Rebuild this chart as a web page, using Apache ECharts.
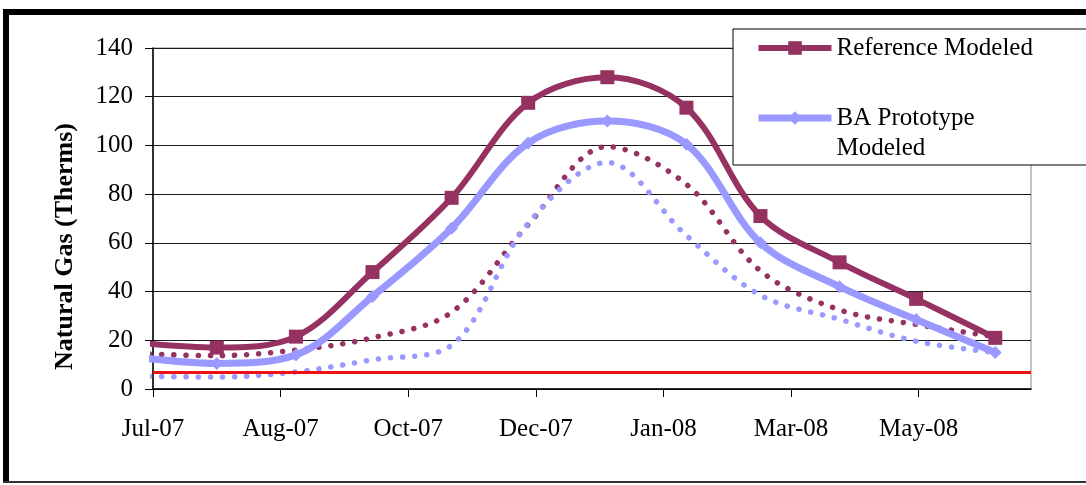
<!DOCTYPE html>
<html>
<head>
<meta charset="utf-8">
<script src="https://cdn.jsdelivr.net/npm/echarts@6/dist/echarts.min.js"></script>
<style>
  html, body { margin: 0; padding: 0; background: #fff; }
  #chart { width: 1086px; height: 485px; }
</style>
</head>
<body>
<div id="chart"></div>
<script>
// x axis is a date axis in days, counted from the axis start
const axisStart = '2007-07-07'
const axisEnd = '2008-06-15'
const tickStepDays = 50
const tickLabels = ['Jul-07', 'Aug-07', 'Oct-07', 'Dec-07', 'Jan-08', 'Mar-08', 'May-08']
const yTicks = [0, 20, 40, 60, 80, 100, 120, 140]

const months = ['2007-07-01', '2007-08-01', '2007-09-01', '2007-10-01', '2007-11-01', '2007-12-01',
    '2008-01-01', '2008-02-01', '2008-03-01', '2008-04-01', '2008-05-01', '2008-06-01']

const referenceModeled = [19, 17, 21.5, 48, 78.5, 117.5, 128, 115.5, 71, 52, 37, 21]
const baPrototypeModeled = [13, 10.5, 14, 38, 66, 101, 110, 100.5, 60, 42, 28.5, 15]
const referenceDotted = [14.5, 13.7, 16, 21, 31.5, 67.5, 99.5, 84, 48.5, 32.5, 26.5, 21.5]
const baPrototypeDotted = [5.3, 4.9, 7, 12, 18, 68, 93, 63, 38.5, 28.6, 19.6, 15]
const baselineValue = 7

// legend texts (the second one wraps; the blank first line keeps "BA Prototype" level with its icon)
const legendText = {
    'Reference Modeled': 'Reference Modeled',
    'BA Prototype Modeled': '\nBA Prototype\nModeled'
}

const FONT = "'Liberation Serif', 'Times New Roman', serif"
const MAROON = '#963262'
const LILAC = '#9999FF'
const SMOOTH = 0.34

const dayMs = 86400000
const toDays = (d) => Math.round((Date.parse(d) - Date.parse(axisStart)) / dayMs)
const pairs = (values) => months.map((m, i) => [toDays(m), values[i]])
const tickValues = tickLabels.map((_, i) => i * tickStepDays)

const chart = echarts.init(document.getElementById('chart'), null, { renderer: 'canvas' })

const option = {
    animation: false,
    backgroundColor: '#fff',
    grid: {
        left: 153, right: 55, top: 48, bottom: 96,
        show: true, borderColor: '#888', borderWidth: 1
    },
    legend: {
        orient: 'vertical',
        left: 733, top: 29,
        padding: [4, 90, 2, 22],
        itemGap: 10,
        itemWidth: 73,
        itemHeight: 17,
        backgroundColor: '#fff',
        borderColor: '#000',
        borderWidth: 1,
        selectedMode: false,
        formatter: (name) => legendText[name],
        textStyle: { fontFamily: FONT, fontSize: 25, color: '#000', lineHeight: 30 },
        data: [
            { name: 'Reference Modeled', lineStyle: { width: 6 } },
            { name: 'BA Prototype Modeled', lineStyle: { width: 7 } }
        ]
    },
    graphic: [
        // outer frame of the figure
        { type: 'rect', shape: { x: 3, y: 9, width: 1100, height: 6 }, style: { fill: '#000' }, z: 100 },
        { type: 'rect', shape: { x: 3, y: 9, width: 6, height: 474 }, style: { fill: '#000' }, z: 100 },
        { type: 'rect', shape: { x: 3, y: 481, width: 1100, height: 2 }, style: { fill: '#333' }, z: 100 }
    ],
    xAxis: {
        type: 'value',
        min: 0,
        max: toDays(axisEnd),
        interval: tickStepDays,
        axisLine: { show: true, lineStyle: { color: '#000', width: 1.5 } },
        axisTick: { show: true, customValues: tickValues, length: 8, lineStyle: { color: '#000' } },
        axisLabel: {
            customValues: tickValues,
            formatter: (v) => tickLabels[Math.round(v / tickStepDays)] || '',
            margin: 28, fontSize: 25, fontFamily: FONT, color: '#000'
        },
        splitLine: { show: false }
    },
    yAxis: {
        type: 'value',
        min: yTicks[0],
        max: yTicks[yTicks.length - 1],
        interval: yTicks[1] - yTicks[0],
        name: 'Natural Gas (Therms)',
        nameLocation: 'middle',
        nameRotate: 90,
        nameGap: 75,
        nameTextStyle: { fontFamily: FONT, fontWeight: 'bold', fontSize: 26, color: '#000', padding: [0, 56, 0, 0] },
        axisLine: { show: true, lineStyle: { color: '#000', width: 1.5 } },
        axisTick: { show: true, length: 8, lineStyle: { color: '#000' } },
        axisLabel: { margin: 20, fontSize: 25, fontFamily: FONT, color: '#000' },
        splitLine: { show: true, lineStyle: { color: '#1a1a1a', width: 1 } }
    },
    series: [
        {
            name: 'Reference Dotted',
            type: 'line',
            data: pairs(referenceDotted),
            smooth: SMOOTH,
            symbol: 'none',
            color: MAROON,
            lineStyle: { color: MAROON, width: 5.5, type: [0.1, 12], cap: 'round' },
            z: 2,
            markLine: {
                silent: true,
                symbol: 'none',
                label: { show: false },
                lineStyle: { color: '#EE1111', width: 3, type: 'solid' },
                data: [{ yAxis: baselineValue }]
            }
        },
        {
            name: 'BA Prototype Dotted',
            type: 'line',
            data: pairs(baPrototypeDotted),
            smooth: SMOOTH,
            symbol: 'none',
            color: LILAC,
            lineStyle: { color: LILAC, width: 5.5, type: [0.1, 12], cap: 'round' },
            z: 3
        },
        {
            name: 'BA Prototype Modeled',
            type: 'line',
            data: pairs(baPrototypeModeled),
            smooth: SMOOTH,
            symbol: 'diamond',
            symbolSize: 13,
            color: LILAC,
            itemStyle: { color: LILAC },
            lineStyle: { color: LILAC, width: 7 },
            z: 4
        },
        {
            name: 'Reference Modeled',
            type: 'line',
            data: pairs(referenceModeled),
            smooth: SMOOTH,
            symbol: 'rect',
            symbolSize: 14,
            color: MAROON,
            itemStyle: { color: MAROON },
            lineStyle: { color: MAROON, width: 6 },
            z: 5
        }
    ]
}

chart.setOption(option)
</script>
</body>
</html>
